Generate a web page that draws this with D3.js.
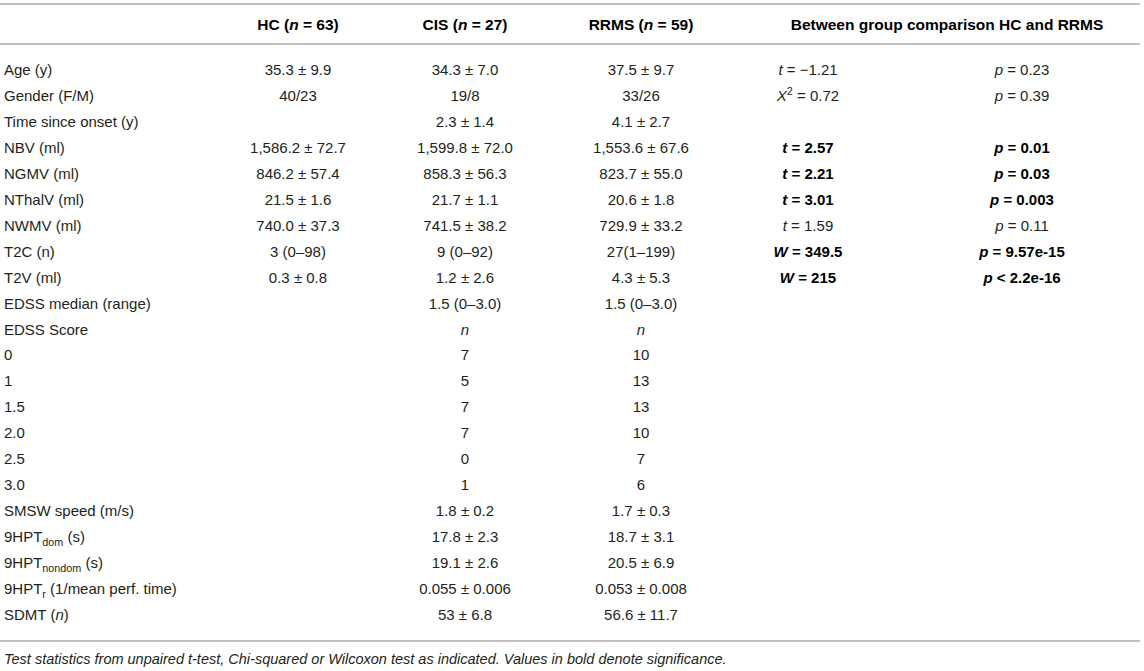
<!DOCTYPE html>
<html>
<head>
<meta charset="utf-8">
<script src="https://cdn.jsdelivr.net/npm/d3@7"></script>
<style>
  html, body { margin: 0; padding: 0; background: #fff; }
  svg { display: block; font-family: "Liberation Sans", Arial, Helvetica, sans-serif; }
</style>
</head>
<body>
<div id="table"></div>
<script>
// Markup in cells: *italic*, _{sub}, ^{sup}
var headers = ["", "HC (*n* = 63)", "CIS (*n* = 27)", "RRMS (*n* = 59)"];
var compareHeader = "Between group comparison HC and RRMS";

var rowLabels = [
  "Age (y)", "Gender (F/M)", "Time since onset (y)", "NBV (ml)", "NGMV (ml)",
  "NThalV (ml)", "NWMV (ml)", "T2C (n)", "T2V (ml)", "EDSS median (range)",
  "EDSS Score", "0", "1", "1.5", "2.0", "2.5", "3.0", "SMSW speed (m/s)",
  "9HPT_{dom} (s)", "9HPT_{nondom} (s)", "9HPT_{r} (1/mean perf. time)", "SDMT (*n*)"
];

var hcValues = [
  "35.3 ± 9.9", "40/23", "", "1,586.2 ± 72.7", "846.2 ± 57.4",
  "21.5 ± 1.6", "740.0 ± 37.3", "3 (0–98)", "0.3 ± 0.8", "",
  "", "", "", "", "", "", "", "", "", "", "", ""
];

var cisValues = [
  "34.3 ± 7.0", "19/8", "2.3 ± 1.4", "1,599.8 ± 72.0", "858.3 ± 56.3",
  "21.7 ± 1.1", "741.5 ± 38.2", "9 (0–92)", "1.2 ± 2.6", "1.5 (0–3.0)",
  "*n*", "7", "5", "7", "7", "0", "1", "1.8 ± 0.2",
  "17.8 ± 2.3", "19.1 ± 2.6", "0.055 ± 0.006", "53 ± 6.8"
];

var rrmsValues = [
  "37.5 ± 9.7", "33/26", "4.1 ± 2.7", "1,553.6 ± 67.6", "823.7 ± 55.0",
  "20.6 ± 1.8", "729.9 ± 33.2", "27(1–199)", "4.3 ± 5.3", "1.5 (0–3.0)",
  "*n*", "10", "13", "13", "10", "7", "6", "1.7 ± 0.3",
  "18.7 ± 3.1", "20.5 ± 6.9", "0.053 ± 0.008", "56.6 ± 11.7"
];

var testStats = [
  "*t* = −1.21", "*X*^{2} = 0.72", "", "*t* = 2.57", "*t* = 2.21",
  "*t* = 3.01", "*t* = 1.59", "*W* = 349.5", "*W* = 215"
];

var pValues = [
  "*p* = 0.23", "*p* = 0.39", "", "*p* = 0.01", "*p* = 0.03",
  "*p* = 0.003", "*p* = 0.11", "*p* = 9.57e-15", "*p* < 2.2e-16"
];

// rows whose comparison is significant (shown bold)
var boldRows = [3, 4, 5, 7, 8];

var footnote = "Test statistics from unpaired t-test, Chi-squared or Wilcoxon test as indicated. Values in bold denote significance.";

var width = 1144;
var height = 671;
var fontSize = 15;
var headSize = 15.5;
var ruleColor = "#acacac";
var textColor = "#231f20";

var svg = d3.select("#table")
  .append("svg")
    .attr("width", width)
    .attr("height", height);

// Column x positions (label column is left aligned, the rest centred).
var colX = { label: 4, hc: 298, cis: 465, rrms: 641, test: 808, p: 1022, compare: 947 };

var rowY = d3.scalePoint()
  .domain(d3.range(rowLabels.length))
  .range([75, 620]);

// Split "*t* = 1_{x}" style markup into styled pieces.
function parseMarkup(str) {
  var parts = [];
  var re = /\*([^*]+)\*|_\{([^}]*)\}|\^\{([^}]*)\}|([^*_^]+)/g;
  var m;
  while ((m = re.exec(str)) !== null) {
    if (m[1] !== undefined) parts.push({ text: m[1], style: "italic" });
    else if (m[2] !== undefined) parts.push({ text: m[2], style: "sub" });
    else if (m[3] !== undefined) parts.push({ text: m[3], style: "sup" });
    else parts.push({ text: m[4], style: "normal" });
  }
  return parts;
}

function addCell(g, str, x, y, anchor, bold, size) {
  if (!str) return;
  size = size || fontSize;
  var text = g.append("text")
    .attr("x", x)
    .attr("y", y)
    .attr("text-anchor", anchor)
    .attr("font-size", size)
    .attr("font-weight", bold ? "bold" : "normal")
    .attr("fill", bold ? "#000" : textColor);

  var shift = 0;
  parseMarkup(str).forEach(function (p) {
    var t = text.append("tspan").text(p.text);
    var target = 0;
    if (p.style == "italic") t.attr("font-style", "italic");
    if (p.style == "sub") { target = 4; t.attr("font-size", size * 0.72); }
    if (p.style == "sup") { target = -6; t.attr("font-size", size * 0.72); }
    if (target != shift) { t.attr("dy", target - shift); shift = target; }
  });
  // put the baseline back after a trailing sub/sup
  if (shift != 0) text.append("tspan").attr("dy", -shift).text("\u200b");
}

// Rules
var rules = [4, 44, 641];
svg.selectAll("line.rule")
  .data(rules)
  .enter()
  .append("line")
    .attr("class", "rule")
    .attr("x1", 0)
    .attr("x2", 1140)
    .attr("y1", function (d) { return d; })
    .attr("y2", function (d) { return d; })
    .attr("stroke", ruleColor)
    .attr("stroke-width", 1.5);

// Header
var head = svg.append("g").attr("class", "header");
var headerY = 30;
addCell(head, headers[1], colX.hc, headerY, "middle", true, headSize);
addCell(head, headers[2], colX.cis, headerY, "middle", true, headSize);
addCell(head, headers[3], colX.rrms, headerY, "middle", true, headSize);
addCell(head, compareHeader, colX.compare, headerY, "middle", true, headSize);

// Body
var body = svg.append("g").attr("class", "body");
rowLabels.forEach(function (label, i) {
  var y = rowY(i);
  var bold = boldRows.indexOf(i) >= 0;
  addCell(body, label, colX.label, y, "start", false);
  addCell(body, hcValues[i], colX.hc, y, "middle", false);
  addCell(body, cisValues[i], colX.cis, y, "middle", false);
  addCell(body, rrmsValues[i], colX.rrms, y, "middle", false);
  addCell(body, testStats[i], colX.test, y, "middle", bold);
  addCell(body, pValues[i], colX.p, y, "middle", bold);
});

// Footnote
svg.append("text")
  .attr("x", 4)
  .attr("y", 664)
  .attr("font-size", 14.5)
  .attr("font-style", "italic")
  .attr("fill", textColor)
  .text(footnote);
</script>
</body>
</html>
